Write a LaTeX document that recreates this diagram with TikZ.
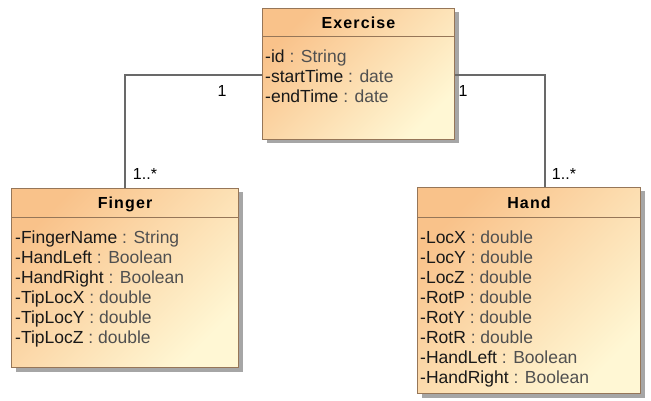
\documentclass[tikz,border=0pt]{standalone}
\usepackage{fontspec}
\setmainfont{Liberation Sans}
\usetikzlibrary{shadows}

\definecolor{classtop}{RGB}{249,194,138}
\definecolor{classbot}{RGB}{255,247,212}
\definecolor{classborder}{RGB}{150,118,88}
\definecolor{typegray}{RGB}{80,80,80}
\definecolor{linegray}{RGB}{105,105,105}

% attribute: name in black, type in gray
\newcommand{\attr}[2]{-#1 \textcolor{typegray}{: #2}}

\tikzset{
  umlclass/.style={draw=classborder, line width=1pt, anchor=north west,
    top color=classtop, bottom color=classbot, shading angle=45,
    drop shadow={shadow xshift=4pt, shadow yshift=-4pt, fill=black!35, opacity=1}},
  classname/.style={font=\bfseries\fontsize{16}{19}\selectfont\addfontfeature{LetterSpace=7}},
  attrline/.style={anchor=base west, inner sep=0pt, text=black!90,
    font=\fontsize{17.5}{20}\selectfont},
  assoc/.style={draw=linegray, line width=2pt},
  mult/.style={inner sep=0pt, font=\fontsize{16}{19}\selectfont}
}

\begin{document}
\begin{tikzpicture}[x=1pt,y=-1pt]
\useasboundingbox (0,0) rectangle (651,401);

% ---------- classes ----------
\node[umlclass, minimum width=192pt, minimum height=131pt] (exercise) at (262,8) {};
\node[umlclass, minimum width=227pt, minimum height=179pt] (finger) at (11,188) {};
\node[umlclass, minimum width=223pt, minimum height=206pt] (hand) at (417,187) {};

% header separators
\draw[classborder, line width=1pt] ([yshift=-29pt]exercise.north west) -- ([yshift=-29pt]exercise.north east);
\draw[classborder, line width=1pt] ([yshift=-29pt]finger.north west) -- ([yshift=-29pt]finger.north east);
\draw[classborder, line width=1pt] ([yshift=-30pt]hand.north west) -- ([yshift=-30pt]hand.north east);

% class names
\node[classname] (exercise-name) at ([yshift=-15pt]exercise.north) {Exercise};
\node[classname] (finger-name) at ([yshift=-16pt]finger.north) {Finger};
\node[classname] (hand-name) at ([yshift=-16pt]hand.north) {Hand};

% attributes
\foreach \n/\t [count=\i] in {id/String, startTime/date, endTime/date}
  \node[attrline] (exercise-attr-\i) at (265,43+20*\i) {\attr{\n}{\t}};
\foreach \n/\t [count=\i] in {FingerName/String, HandLeft/Boolean, HandRight/Boolean,
    TipLocX/double, TipLocY/double, TipLocZ/double}
  \node[attrline] (finger-attr-\i) at (15,223+20*\i) {\attr{\n}{\t}};
\foreach \n/\t [count=\i] in {LocX/double, LocY/double, LocZ/double, RotP/double,
    RotY/double, RotR/double, HandLeft/Boolean, HandRight/Boolean}
  \node[attrline] (hand-attr-\i) at (420,223+20*\i) {\attr{\n}{\t}};

% ---------- associations ----------
\coordinate (hand-end) at ([xshift=16pt]hand.north);
\draw[assoc] ([yshift=-1.5pt]exercise.west) -| (finger.north);
\draw[assoc] ([yshift=-1.5pt]exercise.east) -| (hand-end);

% multiplicities
\node[mult] (mult-ex-left) at (222,91) {1};
\node[mult] (mult-finger) at (145,174) {1..*};
\node[mult] (mult-ex-right) at (463,91) {1};
\node[mult] (mult-hand) at (564,174) {1..*};
\end{tikzpicture}
\end{document}
